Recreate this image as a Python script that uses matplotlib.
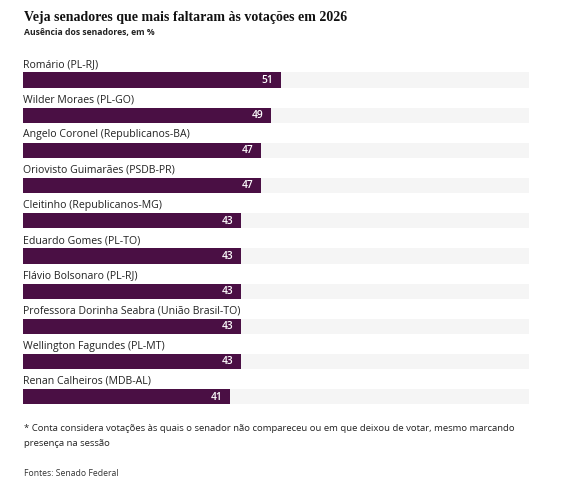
import matplotlib
matplotlib.use("Agg")
import matplotlib.pyplot as plt

names = ["Romário (PL-RJ)", "Wilder Moraes (PL-GO)", "Angelo Coronel (Republicanos-BA)",
         "Oriovisto Guimarães (PSDB-PR)", "Cleitinho (Republicanos-MG)", "Eduardo Gomes (PL-TO)",
         "Flávio Bolsonaro (PL-RJ)", "Professora Dorinha Seabra (União Brasil-TO)",
         "Wellington Fagundes (PL-MT)", "Renan Calheiros (MDB-AL)"]
values = [51, 49, 47, 47, 43, 43, 43, 43, 43, 41]
max_value = 100

title = "Veja senadores que mais faltaram às votações em 2026"
subtitle = "Ausência dos senadores, em %"
note = "* Conta considera votações às quais o senador não compareceu ou em que deixou de votar, mesmo marcando\npresença na sessão"
source = "Fontes: Senado Federal"

W, H = 567, 483
fig = plt.figure(figsize=(W/100, H/100), dpi=100)
fig.patch.set_facecolor("white")

sans = ["Open Sans", "DejaVu Sans"]
bar_color = "#4a0f44"
track_color = "#f5f5f5"

ax = fig.add_axes([23/W, 1 - 414.4/H, 506/W, 369.6/H])
ax.set_xlim(0, max_value)
ax.set_ylim(9.5, -1)
ax.axis("off")

ypos = list(range(len(names)))
ax.barh(ypos, [max_value]*len(names), height=0.43, color=track_color, left=0)
ax.barh(ypos, values, height=0.43, color=bar_color)
for i, (n, v) in enumerate(zip(names, values)):
    ax.text(0, i - 0.44, n, ha="left", va="center", fontsize=7.6, color="#222222", family=sans)
    ax.text(v - 1.5, i + 0.01, str(v), ha="right", va="center", fontsize=7.4, color="white",
            family=sans, fontweight="semibold")

fig.text(24/W, 1 - 17/H, title, ha="left", va="center", fontsize=10.0, fontweight="bold",
         family=["Liberation Serif", "DejaVu Serif"], color="#111111")
fig.text(24/W, 1 - 33/H, subtitle, ha="left", va="center", fontsize=6.2, fontweight="bold",
         family=sans, color="#222222")
fig.text(24/W, 1 - 436/H, note, ha="left", va="center", fontsize=6.8, family=sans,
         color="#222222", linespacing=1.95)
fig.text(24/W, 1 - 474/H, source, ha="left", va="center", fontsize=6.2, family=sans,
         color="#333333")

fig.savefig("out.png", dpi=100)
